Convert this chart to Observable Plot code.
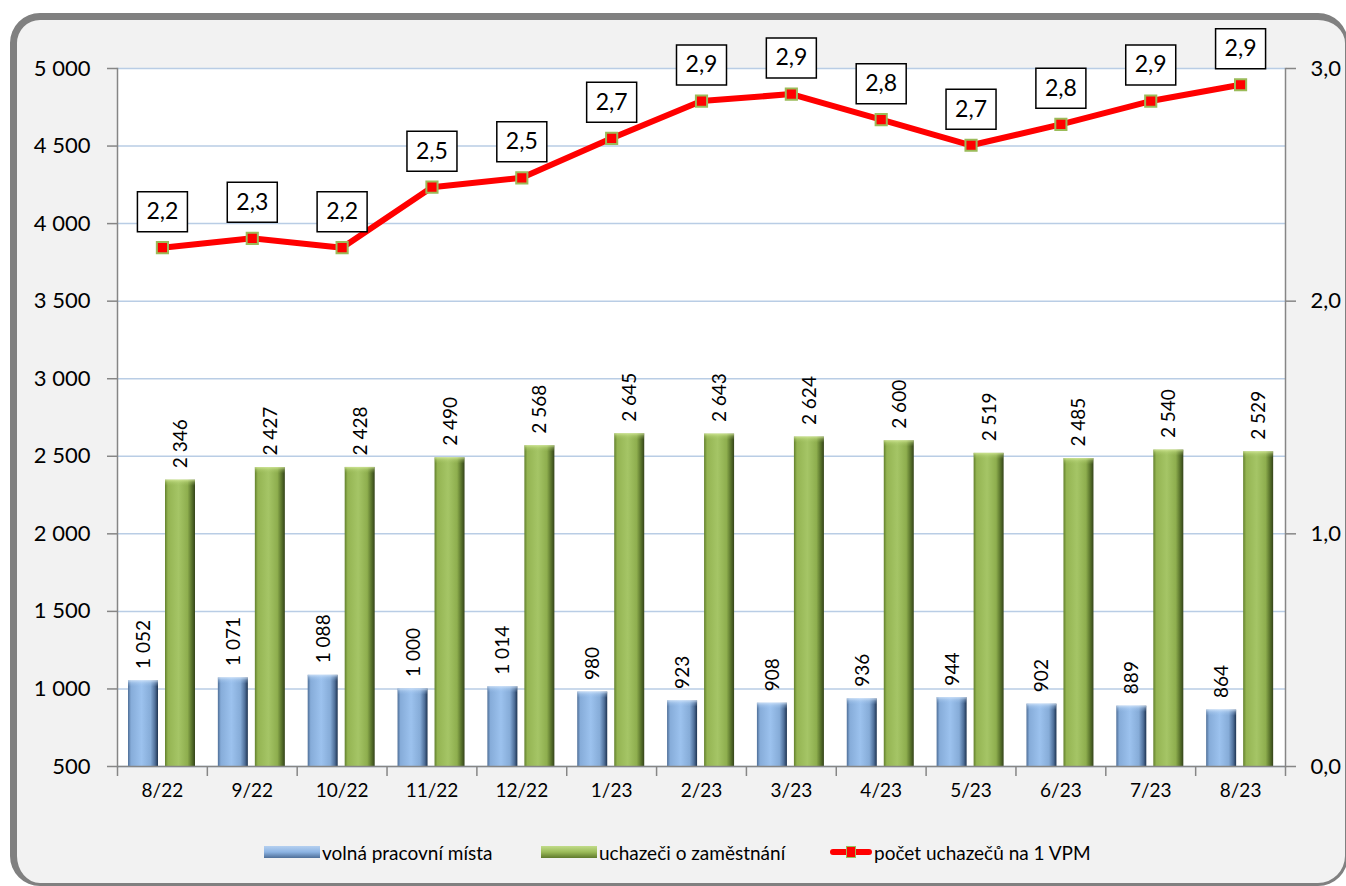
<!DOCTYPE html>
<html>
<head>
<meta charset="utf-8">
<script src="https://cdn.jsdelivr.net/npm/d3@7"></script>
<script src="https://cdn.jsdelivr.net/npm/@observablehq/plot@0.6"></script>
<style>
  html, body { margin: 0; padding: 0; background: #ffffff; width: 1346px; height: 886px; overflow: hidden; }
  #frame { position: absolute; left: 10px; top: 13px; width: 1338px; height: 873px; box-sizing: border-box;
           border-left: 7px solid #808080; border-top: 7px solid #808080; border-right: 3px solid #808080; border-bottom: 3px solid #808080;
           border-radius: 30px; background: #f2f2f2; }
  #chart { position: absolute; left: 0; top: 0; }
  #legend { position: absolute; top: 842px; left: 0; font-family: Lato, sans-serif; font-size: 19px; color: #000; }
  .item { position: absolute; display: flex; align-items: center; white-space: nowrap; height: 20px; }
  .sw { display: inline-block; width: 56px; height: 12px; margin-right: 2px; }
  .ln { position: relative; display: inline-block; width: 42px; height: 20px; margin-right: 2px; }
  .ln::before { content: ""; position: absolute; left: 0; right: 0; top: 7px; height: 6px; background: #ff0000; border-radius: 3px; }
  .ln::after { content: ""; position: absolute; left: 16px; top: 4px; width: 8px; height: 10px; background: #ff0000; border: 1.5px solid #9bbb59; }
</style>
</head>
<body>
<div id="frame"></div>
<div id="chart"></div>
<div id="legend">
  <div class="item" style="left:264px"><span class="sw" style="background:linear-gradient(180deg,#b5d0f0,#8db4e3 50%,#4f6f99)"></span>volná pracovní místa</div>
  <div class="item" style="left:541px"><span class="sw" style="background:linear-gradient(180deg,#c2dc8a,#9bbb59 50%,#5f7a2c)"></span>uchazeči o zaměstnání</div>
  <div class="item" style="left:830px"><span class="ln"></span>počet uchazečů na 1 VPM</div>
</div>
<script>
const months = ["8/22","9/22","10/22","11/22","12/22","1/23","2/23","3/23","4/23","5/23","6/23","7/23","8/23"];
const volna = [1052, 1071, 1088, 1000, 1014, 980, 923, 908, 936, 944, 902, 889, 864];
const uchazeci = [2346, 2427, 2428, 2490, 2568, 2645, 2643, 2624, 2600, 2519, 2485, 2540, 2529];
const ratio = [2.23, 2.27, 2.23, 2.49, 2.53, 2.70, 2.86, 2.89, 2.78, 2.67, 2.76, 2.86, 2.93];
const leftTicks = [500, 1000, 1500, 2000, 2500, 3000, 3500, 4000, 4500, 5000];
const rightTicks = [0, 1, 2, 3];

const data = months.map((m, i) => ({month: m, volna: volna[i], uchazeci: uchazeci[i], ratio: ratio[i]}));

const W = 1346, H = 820;
const mL = 117, mR = 61, mT = 68, mB = 54;
const bw = (W - mL - mR) / months.length;
const gray = "#868686";
const fmtN = v => d3.format(",")(v).replace(/,/g, " ");
const fmtR = v => v.toFixed(1).replace(".", ",");
// right axis (0–3) shares the left scale: 0 -> 500, 3 -> 5000
const toLeft = r => 500 + r * 1500;

const boxSymbol = { draw(ctx) { ctx.rect(-25, -20, 50, 40); } };

const chart = Plot.plot({
  width: W, height: H,
  marginLeft: mL, marginRight: mR, marginTop: mT, marginBottom: mB,
  style: {background: "transparent", fontFamily: "Lato, sans-serif", color: "#000", overflow: "visible"},
  x: {type: "band", domain: months, padding: 0, round: false, axis: null, label: null},
  y: {domain: [500, 5000], axis: null, label: null},
  marks: [
    Plot.frame({fill: "white", stroke: null}),
    Plot.ruleY(leftTicks, {stroke: "#b9cde5", strokeWidth: 1.5}),
    Plot.barY(data, {x: "month", y1: 500, y2: "volna", fill: "url(#gBlue)", insetLeft: 11, insetRight: bw - 41}),
    Plot.barY(data, {x: "month", y1: 500, y2: "uchazeci", fill: "url(#gGreen)", insetLeft: 48, insetRight: bw - 78}),
    Plot.barY(data, {x: "month", y1: d => d.volna - 40, y2: "volna", fill: "url(#gTopB)", insetLeft: 11, insetRight: bw - 41}),
    Plot.barY(data, {x: "month", y1: d => d.uchazeci - 40, y2: "uchazeci", fill: "url(#gTopG)", insetLeft: 48, insetRight: bw - 78}),
    Plot.text(data, {x: "month", y: "volna", text: d => fmtN(d.volna), rotate: -90, textAnchor: "start", lineAnchor: "middle", dx: -18.5, dy: -12, fontSize: 19, fill: "#000"}),
    Plot.text(data, {x: "month", y: "uchazeci", text: d => fmtN(d.uchazeci), rotate: -90, textAnchor: "start", lineAnchor: "middle", dx: 18.5, dy: -12, fontSize: 19, fill: "#000"}),
    Plot.ruleY([500], {stroke: gray, strokeWidth: 1.5}),
    Plot.frame({anchor: "left", stroke: gray, strokeWidth: 1.5}),
    Plot.frame({anchor: "right", stroke: gray, strokeWidth: 1.5}),
    Plot.axisY(leftTicks, {anchor: "left", label: null, tickSize: 10, tickPadding: 17, tickFormat: fmtN, fontSize: 22, stroke: gray, strokeWidth: 1.5, fill: "#000"}),
    Plot.axisY(rightTicks.map(toLeft), {anchor: "right", label: null, tickSize: 10, tickPadding: 15, tickFormat: v => fmtR((v - 500) / 1500), fontSize: 22, stroke: gray, strokeWidth: 1.5, fill: "#000"}),
    Plot.axisX(months, {label: null, tickSize: 0, tickPadding: 17, fontSize: 19, fill: "#000"}),
    Plot.axisX(months, {label: null, tickSize: 10, tickFormat: () => "", dx: -bw / 2, stroke: gray, strokeWidth: 1.5}),
    Plot.axisX([months[months.length - 1]], {label: null, tickSize: 10, tickFormat: () => "", dx: bw / 2, stroke: gray, strokeWidth: 1.5}),
    Plot.line(data, {x: "month", y: d => toLeft(d.ratio), stroke: "#ff0000", strokeWidth: 6}),
    Plot.dot(data, {x: "month", y: d => toLeft(d.ratio), symbol: "square", r: 6.3, fill: "#ff0000", stroke: "#9bbb59", strokeWidth: 2}),
    Plot.dot(data, {x: "month", y: d => toLeft(d.ratio), symbol: boxSymbol, r: 1, fill: "white", stroke: "#000", strokeWidth: 1.5, dy: -36}),
    Plot.text(data, {x: "month", y: d => toLeft(d.ratio), text: d => fmtR(d.ratio), dy: -36, fontSize: 23, fill: "#000"})
  ]
});

const defs = d3.select(chart).insert("defs", ":first-child");
function hgrad(id, stops) {
  const g = defs.append("linearGradient").attr("id", id).attr("x1", "0").attr("x2", "1").attr("y1", "0").attr("y2", "0");
  stops.forEach(([o, c, a]) => g.append("stop").attr("offset", o).attr("stop-color", c).attr("stop-opacity", a == null ? 1 : a));
}
function vgrad(id, stops) {
  const g = defs.append("linearGradient").attr("id", id).attr("x1", "0").attr("x2", "0").attr("y1", "0").attr("y2", "1");
  stops.forEach(([o, c, a]) => g.append("stop").attr("offset", o).attr("stop-color", c).attr("stop-opacity", a == null ? 1 : a));
}
hgrad("gBlue", [["0", "#4d6d96"], ["0.1", "#86acd9"], ["0.45", "#9cc2ee"], ["0.75", "#86acd8"], ["0.9", "#50709a"], ["1", "#1e3350"]]);
hgrad("gGreen", [["0", "#62802c"], ["0.1", "#94b452"], ["0.45", "#a5c566"], ["0.75", "#8eae4e"], ["0.9", "#56702a"], ["1", "#34431a"]]);
vgrad("gTopB", [["0", "#d4e6fb", 0.8], ["0.4", "#c0daf7", 0.35], ["1", "#9cc2ee", 0]]);
vgrad("gTopG", [["0", "#d8ec9e", 0.8], ["0.4", "#c6e088", 0.35], ["1", "#a5c566", 0]]);

document.getElementById("chart").appendChild(chart);
</script>
</body>
</html>
